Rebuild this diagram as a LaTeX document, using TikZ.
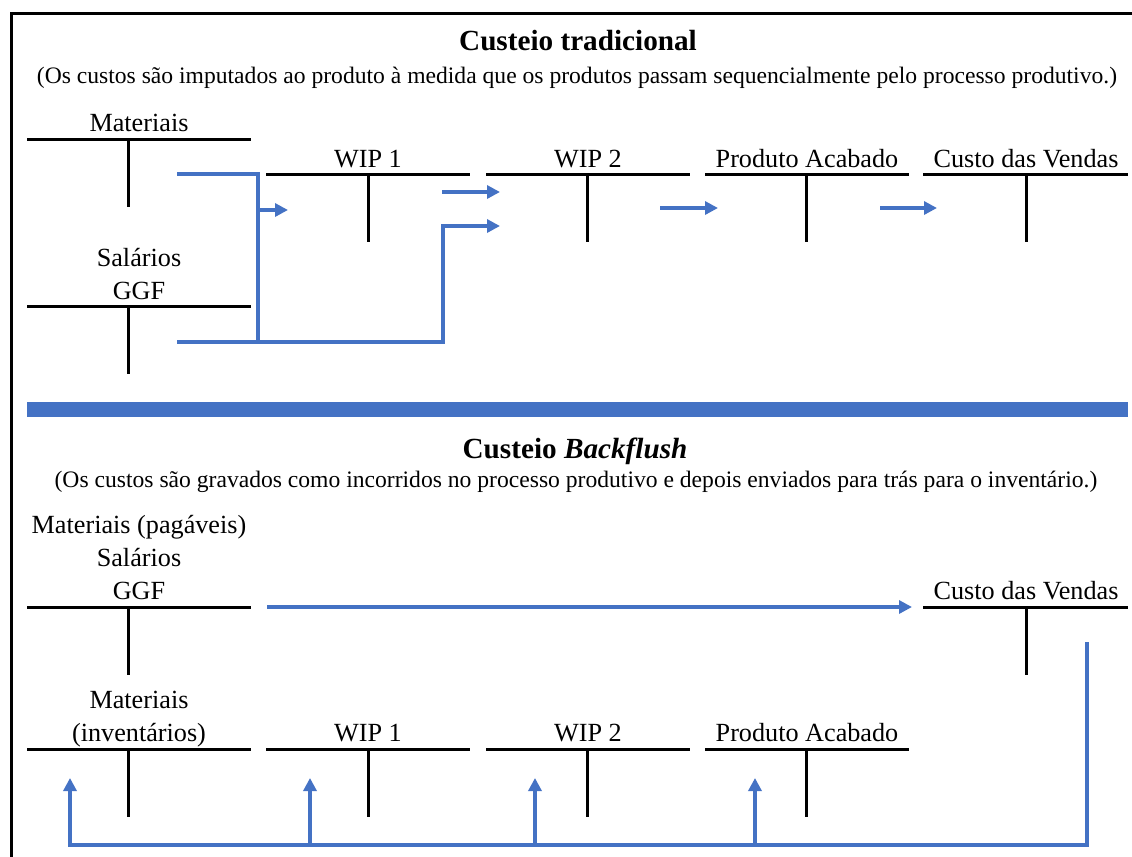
\documentclass[tikz,border=0pt]{standalone}
\usepackage{fontspec}
\setmainfont{Liberation Serif}
\usetikzlibrary{arrows.meta,positioning,calc}
\definecolor{flowblue}{HTML}{4472C4}
\tikzset{
  acct/.style={line width=1.5pt},
  lbl/.style={inner sep=0pt, anchor=base, font=\fontsize{13.1}{16.5}\selectfont},
  ttl/.style={inner sep=0pt, anchor=base, font=\fontsize{14.6}{17}\selectfont\bfseries},
  sub/.style={inner sep=0pt, anchor=base, font=\fontsize{11.8}{14}\selectfont},
  flow/.style={draw=flowblue, line width=1.7pt},
  flowarr/.style={flow, -{Triangle[length=6.5pt,width=6.5pt]}},
}
% T-account: name, left end, right end, stem x, line y
\newcommand{\tacct}[5]{%
  \draw[acct] (#2,#5) -- (#3,#5);
  \draw[acct] (#4,#5) -- (#4,#5+68);
  \coordinate (#1) at (#4,#5);
}

\begin{document}
\begin{tikzpicture}[x=0.5pt,y=-0.5pt]
  \useasboundingbox (0,0) rectangle (1132,857);
  \draw[line width=1.5pt] (11,862) -- (11,13) -- (1136,13);

  % --- custeio tradicional ---
  \node[ttl] (titA) at (578,50) {Custeio tradicional};
  \node[sub] (subA) at (577,83) {(Os custos são imputados ao produto à medida que os produtos passam sequencialmente pelo processo produtivo.)};

  \tacct{mat}{27}{251}{128}{139}
  \tacct{sal}{27}{251}{128}{306}
  \tacct{wipA}{266}{470}{368}{174}
  \tacct{wipB}{486}{690}{587}{174}
  \tacct{pa}{705}{909}{806}{174}
  \tacct{cv}{923}{1128}{1026}{174}

  \node[lbl] (matL) at (139,131) {Materiais};
  \node[lbl] (salL) at (139,266) {Salários};
  \node[lbl] (ggfL) at (139,299) {GGF};
  \node[lbl] (wipAL) at (368,167) {WIP 1};
  \node[lbl] (wipBL) at (588,167) {WIP 2};
  \node[lbl] (paL) at (807,167) {Produto Acabado};
  \node[lbl] (cvL) at (1026,167) {Custo das Vendas};

  \coordinate (matOut) at (177,174);
  \coordinate (salOut) at (177,342);
  \coordinate (joinA) at (258,210);
  \coordinate (wipAIn) at (288,210);
  \coordinate (wipBIn) at (500,226);
  \coordinate (wipAOut) at (442,192);
  \coordinate (wipBInA) at (500,192);
  \coordinate (wipBOut) at (660,208);
  \coordinate (paIn) at (718,208);
  \coordinate (paOut) at (880,208);
  \coordinate (cvIn) at (937,208);

  \draw[flow] (matOut) -| (258,342);
  \draw[flowarr] (joinA) -- (wipAIn);
  \draw[flowarr] (salOut) -- (443,342) |- (wipBIn);
  \draw[flowarr] (wipAOut) -- (wipBInA);
  \draw[flowarr] (wipBOut) -- (paIn);
  \draw[flowarr] (paOut) -- (cvIn);

  \fill[flowblue] (27,402) rectangle (1128,417);

  % --- custeio backflush ---
  \node[ttl] (titB) at (575,458) {Custeio \textit{Backflush}};
  \node[sub] (subB) at (576,487) {(Os custos são gravados como incorridos no processo produtivo e depois enviados para trás para o inventário.)};

  \tacct{pay}{27}{251}{128}{607}
  \tacct{cvB}{923}{1128}{1026}{607}
  \tacct{inv}{27}{251}{128}{749}
  \tacct{wipC}{266}{470}{368}{749}
  \tacct{wipD}{486}{690}{587}{749}
  \tacct{paB}{705}{909}{806}{749}

  \node[lbl] (payL) at (139,533) {Materiais (pagáveis)};
  \node[lbl] (salBL) at (139,566) {Salários};
  \node[lbl] (ggfBL) at (139,599) {GGF};
  \node[lbl] (cvBL) at (1026,599) {Custo das Vendas};
  \node[lbl] (invL) at (139,708) {Materiais};
  \node[lbl] (invBL) at (139,741) {(inventários)};
  \node[lbl] (wipCL) at (368,741) {WIP 1};
  \node[lbl] (wipDL) at (588,741) {WIP 2};
  \node[lbl] (paBL) at (807,741) {Produto Acabado};

  \coordinate (payOut) at (267,607);
  \coordinate (cvBIn) at (912,607);
  \coordinate (cvBOut) at (1087,642);
  \coordinate (invIn) at (70,778);
  \coordinate (wipCIn) at (310,778);
  \coordinate (wipDIn) at (535,778);
  \coordinate (paBIn) at (755,778);

  \draw[flowarr] (payOut) -- (cvBIn);
  \draw[flowarr] (cvBOut) |- (70,845) -- (invIn);
  \foreach \dst in {wipCIn,wipDIn,paBIn}
    \draw[flowarr] (\dst |- 0,845) -- (\dst);
\end{tikzpicture}
\end{document}
